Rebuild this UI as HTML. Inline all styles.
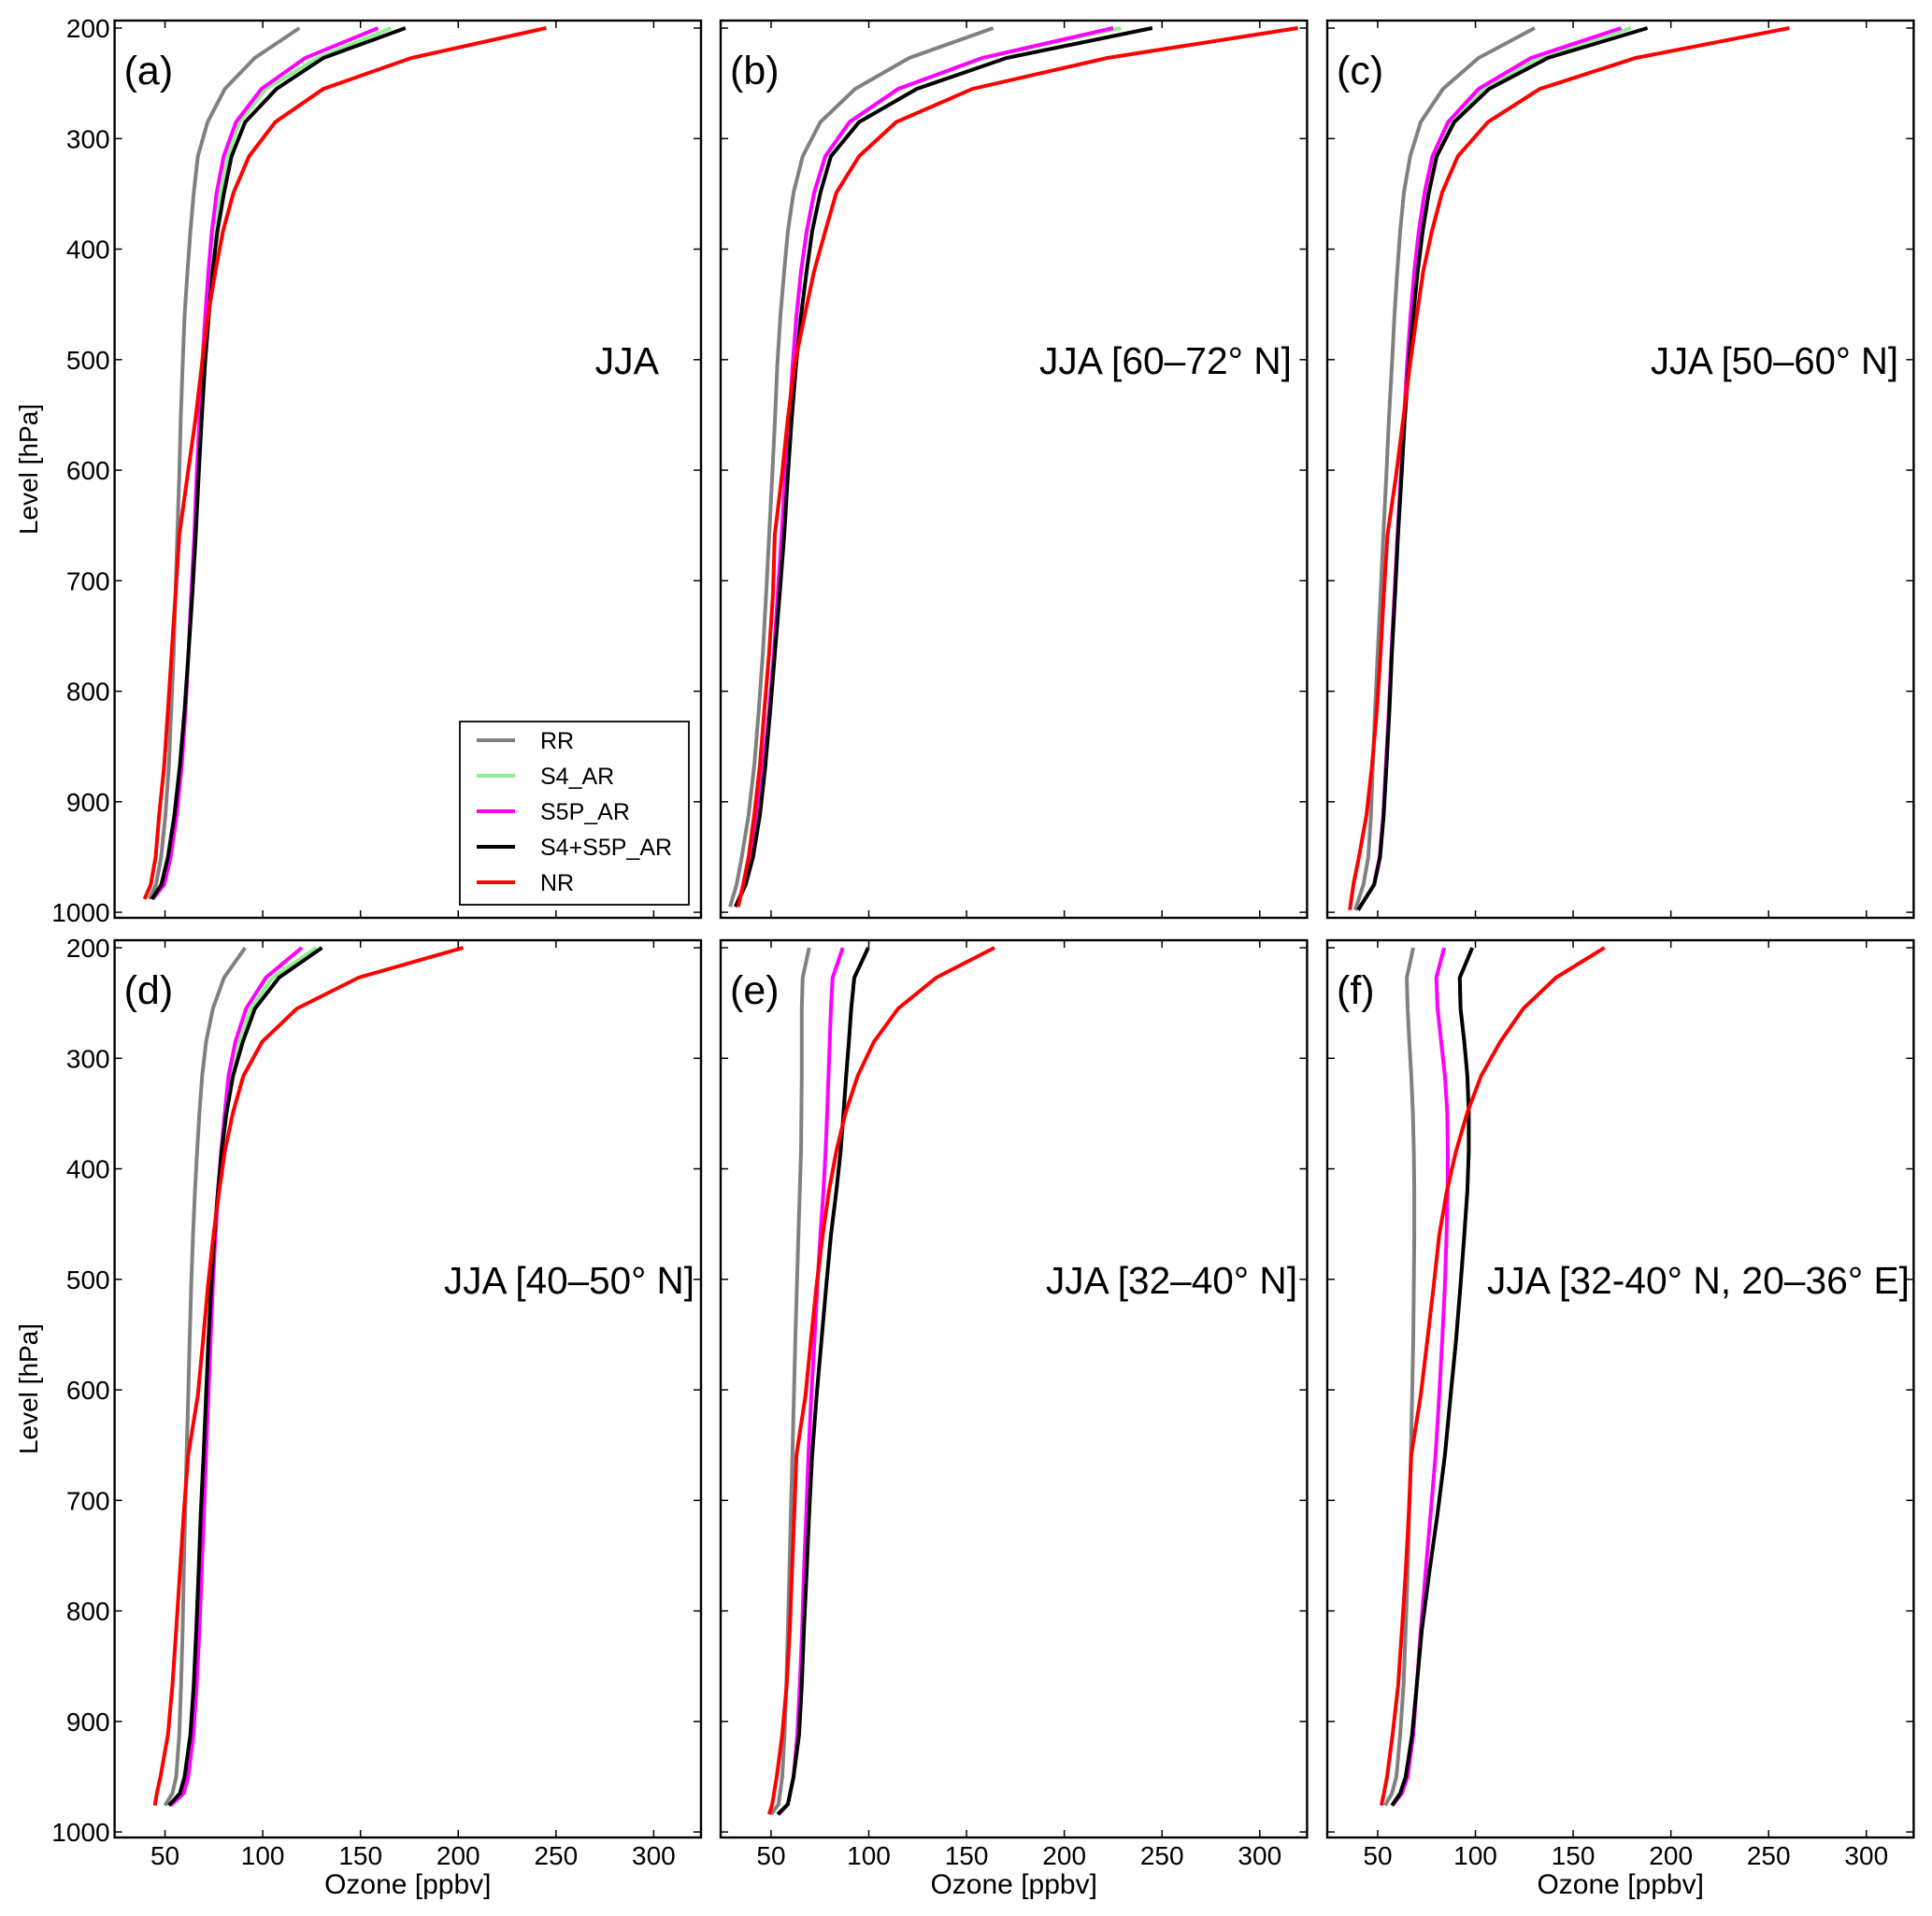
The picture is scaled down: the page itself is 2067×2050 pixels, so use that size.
<!DOCTYPE html>
<html><head><meta charset="utf-8"><style>
html,body{margin:0;padding:0;background:#fff;}
svg{display:block;font-family:"Liberation Sans","DejaVu Sans",sans-serif;}
</style></head><body>
<svg id="fig" width="2067" height="2050" viewBox="0 0 2067 2050" xmlns="http://www.w3.org/2000/svg"></svg>
<script>
// ---- data ----
const seriesNames = ["RR","S4_AR","S5P_AR","S4+S5P_AR","NR"];
const seriesColors = ["#808080","#90ee90","#ff00ff","#000000","#ff0000"];
const xTicks = [50,100,150,200,250,300];
const yTicks = [200,300,400,500,600,700,800,900,1000];
const panelLetters = ["(a)","(b)","(c)","(d)","(e)","(f)"];
const panelTitles = ["JJA","JJA [60–72° N]","JJA [50–60° N]","JJA [40–50° N]","JJA [32–40° N]","JJA [32-40° N, 20–36° E]"];

const levelsA = [200,227,255,285,316,349,384,420,460,505,555,605,659,712,765,817,867,912,950,975,988];
const levelsB = [200,227,255,285,316,349,384,420,460,505,555,605,659,712,765,817,867,912,950,975,995];
const levelsC = [200,227,255,285,316,349,384,420,460,505,555,605,659,712,765,817,867,912,950,975,998];
const levelsD = [200,227,255,285,316,349,384,420,460,505,555,605,659,712,765,817,867,912,950,965,976];
const levelsE = [200,227,255,285,316,349,384,420,460,505,555,605,659,712,765,817,867,912,950,975,984];
const levelsF = [200,227,255,285,316,349,384,420,460,505,555,605,659,712,765,817,867,912,950,965,976];

const rrA = [118.8,95.9,80.6,71.8,66.8,64.7,63,61.5,60,59,58,57.3,56.3,55.4,54.4,53.2,52,50.2,48,45.4,42];
const s4A = [165.6,128,101.6,88,82,78.5,75.5,73.3,71.5,70.4,68.7,67.2,65.7,64,62,60,57.6,54.8,51.5,48.1,43.3];
const s5pA = [159,121.7,99.3,86.3,80,76.4,74,72.2,70.6,69,67.6,66.2,65,63.4,62,60.5,58.6,56,52.9,49.6,43.7];
const bothA = [173,131,107,91,84,80.2,76.8,74.3,72.4,70.4,68.7,67.2,65.7,64,62,60,57.6,54.8,51.5,48.1,43.3];
const nrA = [245,176,131,106.4,93,85,79.6,75.8,72,68.8,65.5,61.5,57.3,55.4,53.4,51.5,49.6,47,45.2,42.7,39.5];

const rrB = [163.7,120.7,93,75.2,66.2,61.5,58.6,56.7,54.8,53.2,52,50.6,49,47.5,45.8,43.7,41.4,38.5,35,32.4,29];
const s4B = [229,158.5,115.5,90.5,78,72.5,68.5,65.5,63.2,61.5,59.5,57.8,55.8,53.8,51.8,49.3,46.6,43.6,40.3,36.8,31.8];
const s5pB = [225,158,115,90.1,77.7,72,68.2,65.3,63,61,59.2,57.3,55.4,53.4,51.5,49,46.2,43.3,40,36.6,31.8];
const bothB = [245,170.4,124.5,95,80.6,75.2,71,68.2,65.3,62.8,60.5,58.6,56.7,54.4,52,49.6,47.1,44.3,40.8,37,31.8];
const nrB = [319.5,222,153,114,95,83.4,77.7,72,67.2,62,58.5,55.5,51.9,51,49,46.6,44.3,41.4,38.5,35.7,33.2];

const rrC = [130.3,101.6,83.4,72,66.6,63.4,61.5,60,58.6,57.3,55.7,54.4,52.9,51.5,50,48.7,47.5,46.6,45.2,42.7,38.5];
const s4C = [179.6,132,104,87.5,79,75,72,69.6,67.5,65.5,63.7,62.1,60.3,58.8,57.2,55.9,54.4,53,51.1,48.2,40];
const s5pC = [174.6,128.4,101.6,86,78,74,71,68.7,66.8,65,63.4,61.9,60.1,58.6,57,55.7,54.2,52.9,51,48.1,40];
const bothC = [188,137,107,89.2,80.2,76.2,73,70.5,68.2,65.9,63.8,62.2,60.4,58.9,57.3,56,54.5,53.1,51.2,48.2,40];
const nrC = [260.6,182,133,106.4,91,82.9,77.7,73.3,70,66.5,63,59.4,55,53.2,51.5,49.6,47.1,44.3,40.4,37.6,35.7];

const rrD = [91,80.2,74.5,71,69,67.6,66.4,65.3,64.3,63.4,62.6,61.9,61,60.3,59.6,59,58.2,57.3,55.7,53.8,50];
const s4D = [127.4,105,94,88,83.5,81.5,79,77.1,75.2,73.7,72.2,71,69.7,68.3,67.2,66,64.7,63,60,57.6,52];
const s5pD = [120,101.6,91.5,86,82.5,80.6,78.7,77.1,75.8,74.5,73.3,72.2,71,69.9,68.7,67.6,66.2,64.5,61.9,59.6,52.9];
const bothD = [130.3,108.3,96,89.8,84.8,81.5,79,77.1,75.2,73.7,72.2,71,69.7,68.3,67.2,66,64.7,63,60,57.6,52];
const nrD = [202.5,149,117.5,99.7,90.1,84.8,80.6,77.7,74.8,72,69.5,66.8,61.9,59.6,57.6,55.7,53.8,51.5,47.7,45.8,44.8];

const rrE = [69.5,66.2,65.7,65.7,65.7,65.5,65.3,64.7,64,63.2,62.4,61.7,60.9,60.1,59.4,58.6,57.8,56.9,55.7,53.8,50];
const s4E = [99.7,92.6,91,89.8,88.4,87.1,85.6,83.4,80.6,78.3,75.8,73.3,71,69.5,68.2,66.8,65.7,64.3,61.5,58.6,53.4];
const s5pE = [86.7,81.5,80.6,80,79.4,78.7,77.9,76.8,75.2,73.7,72.2,70.6,69.1,68,66.8,65.9,64.7,63.4,61.5,58.6,53.8];
const bothE = [99.7,92.6,91,89.8,88.4,87.1,85.6,83.4,80.6,78.3,75.8,73.3,71,69.5,68.2,66.8,65.7,64.3,61.5,58.6,53.4];
const nrE = [164.3,134.5,115,102.6,94.3,88.2,83.4,79.6,76.4,73.3,70.4,67.6,63,61.9,60.7,59.6,58,55.7,52.9,50.6,49];

const rrF = [68.2,64.9,65.3,66.2,67.2,68,68.5,68.7,68.7,68.5,68.2,67.6,67,66.2,65.3,64.3,63.2,61.5,59.6,57.3,53.8];
const s4F = [98.4,92,92.4,94.3,95.9,96.6,96.6,95.9,94.3,92.4,90.1,87.3,84.4,80.6,76.4,72.6,70,67.6,64.3,61.5,57.3];
const s5pF = [84,80,80.6,82.5,84.4,85.6,85.9,85.8,85.2,84.4,83,81.5,79.6,77.1,74.5,72,70,68.2,65.3,62.4,57.6];
const bothF = [98.4,92,92.4,94.3,95.9,96.6,96.6,95.9,94.3,92.4,90.1,87.3,84.4,80.6,76.4,72.6,70,67.6,64.3,61.5,57.3];
const nrF = [166,141.2,124.5,112.7,102.9,95.9,90.1,85.4,81.5,78.7,75.4,72,67.2,65.9,64.3,62.4,60.5,57.6,54.8,53.2,51.9];

const panelLevels = [levelsA,levelsB,levelsC,levelsD,levelsE,levelsF];
const panelSeries = [
  [rrA,s4A,s5pA,bothA,nrA],
  [rrB,s4B,s5pB,bothB,nrB],
  [rrC,s4C,s5pC,bothC,nrC],
  [rrD,s4D,s5pD,bothD,nrD],
  [rrE,s4E,s5pE,bothE,nrE],
  [rrF,s4F,s5pF,bothF,nrF]
];

// ---- layout ----
const NS = "http://www.w3.org/2000/svg";
const svg = document.getElementById("fig");
const colLeft = [122.6, 771, 1420];
const rowTop = [22, 1006];
const PW = 627.4, PH = 960;
const xMin = 24.2, xMax = 324.2, yMin = 193.2, yMax = 1005;
const titleRight = [705, 1382, 2031, 743, 1388, 2043];
const titleLen = [0, 270, 265, 268, 269, 452];

function mk(tag, attrs, parent){
  const e = document.createElementNS(NS, tag);
  for (const k in attrs) e.setAttribute(k, attrs[k]);
  (parent||svg).appendChild(e);
  return e;
}

for (let p = 0; p < 6; p++) {
  const col = p % 3, row = Math.floor(p / 3);
  const L = colLeft[col], T = rowTop[row];
  const xs = v => L + (v - xMin) / (xMax - xMin) * PW;
  const ys = v => T + (v - yMin) / (yMax - yMin) * PH;
  const g = mk("g", {});
  
  

  const clipId = "clip" + p;
  const cp = mk("clipPath", {id: clipId}, g);
  mk("rect", {x: L, y: T, width: PW, height: PH}, cp);

  const lv = panelLevels[p];
  for (let s = 0; s < seriesNames.length; s++) {
    const vals = panelSeries[p][s];
    let d = "";
    for (let i = 0; i < vals.length; i++) d += (i ? "L" : "M") + xs(vals[i]).toFixed(1) + "," + ys(lv[i]).toFixed(1);
    const path = mk("path", {d: d, fill: "none", stroke: seriesColors[s], "stroke-width": 4, "stroke-linejoin": "miter", "clip-path": "url(#" + clipId + ")"}, g);
    
    
  }

  const frame = mk("rect", {x: L, y: T, width: PW, height: PH, fill: "none", stroke: "#000", "stroke-width": 2.4}, g);
  
  

  for (const t of xTicks) {
    const x = xs(t);
    mk("line", {x1: x, y1: T + PH, x2: x, y2: T + PH - 8, stroke: "#000", "stroke-width": 1.5}, g);
    mk("line", {x1: x, y1: T, x2: x, y2: T + 8, stroke: "#000", "stroke-width": 1.5}, g);
    if (row === 1) {
      const tl = mk("text", {x: x, y: T + PH + 29, "font-size": 28, "text-anchor": "middle", fill: "#000"}, g);
      tl.textContent = t;
      
      
    }
  }
  for (const t of yTicks) {
    const y = ys(t);
    mk("line", {x1: L, y1: y, x2: L + 8, y2: y, stroke: "#000", "stroke-width": 1.5}, g);
    mk("line", {x1: L + PW, y1: y, x2: L + PW - 8, y2: y, stroke: "#000", "stroke-width": 1.5}, g);
    if (col === 0) {
      const tl = mk("text", {x: L - 5, y: y + 10, "font-size": 28, "text-anchor": "end", fill: "#000"}, g);
      tl.textContent = t;
      
      
    }
  }

  const lt = mk("text", {x: L + 10, y: T + 68, "font-size": 43, fill: "#000"}, g);
  lt.textContent = panelLetters[p];
  
  

  const tAttrs = {x: titleRight[p], y: ys(500) + 15, "font-size": 41, "text-anchor": "end", fill: "#000"};
  if (titleLen[p] > 0) { tAttrs.textLength = titleLen[p]; tAttrs.lengthAdjust = "spacingAndGlyphs"; }
  const tt = mk("text", tAttrs, g);
  tt.textContent = panelTitles[p];
  
  

  if (col === 0) {
    const yt = mk("text", {x: 0, y: 0, "font-size": 28, "text-anchor": "middle", fill: "#000", transform: "translate(40," + (T + PH / 2) + ") rotate(-90)"}, g);
    yt.textContent = "Level [hPa]";
    
    
  }
  if (row === 1) {
    const xt = mk("text", {x: L + PW / 2, y: 2026, "font-size": 30, "text-anchor": "middle", fill: "#000"}, g);
    xt.textContent = "Ozone [ppbv]";
    
    
  }
}

const lg = mk("g", {});


mk("rect", {x: 492, y: 772, width: 245, height: 196, fill: "#fff", stroke: "#000", "stroke-width": 1.8}, lg);
for (let s = 0; s < seriesNames.length; s++) {
  const y = 792 + s * 38;
  const ln = mk("line", {x1: 510, y1: y, x2: 551, y2: y, stroke: seriesColors[s], "stroke-width": 4}, lg);
  
  
  const tx = mk("text", {x: 578, y: y + 9, "font-size": 25, fill: "#000"}, lg);
  tx.textContent = seriesNames[s];
  
  
}
</script>
</body></html>
